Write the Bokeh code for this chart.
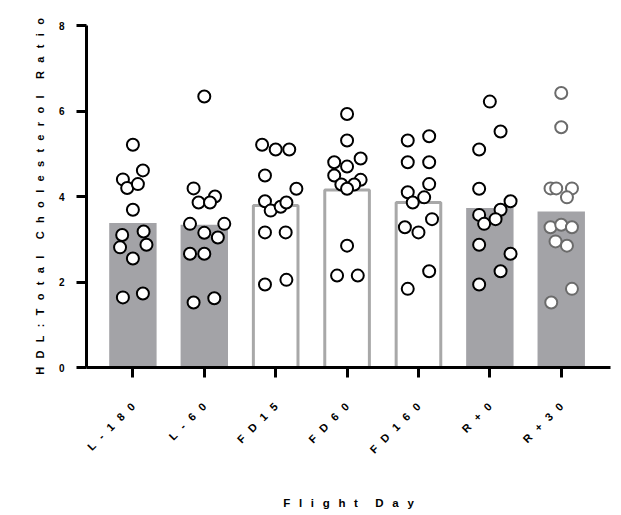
import math
from bokeh.plotting import figure
from bokeh.models import Range1d, FixedTicker, ColumnDataSource
from bokeh.embed import file_html
from bokeh.resources import INLINE

# ---------------- data ----------------
categories = ["L-180", "L-60", "FD15", "FD60", "FD160", "R+0", "R+30"]
means = [3.38, 3.34, 3.79, 4.15, 3.86, 3.73, 3.65]

l180 = [5.21, 4.61, 4.40, 4.20, 4.29, 3.69, 3.10, 3.18, 2.87, 2.81, 2.55, 1.64, 1.73]
l60 = [6.34, 4.19, 4.00, 3.86, 3.86, 3.36, 3.36, 3.15, 3.04, 2.66, 2.66, 1.52, 1.62]
fd15 = [5.21, 5.10, 5.10, 4.49, 4.18, 3.89, 3.67, 3.76, 3.86, 3.16, 3.16, 1.94, 2.05]
fd60 = [5.93, 5.31, 4.80, 4.89, 4.70, 4.49, 4.39, 4.28, 4.28, 4.18, 2.85, 2.15, 2.15]
fd160 = [5.31, 5.41, 4.80, 4.80, 4.29, 4.10, 3.86, 3.98, 3.47, 3.28, 3.16, 2.25, 1.84]
rp0 = [6.22, 5.52, 5.10, 4.18, 3.89, 3.69, 3.57, 3.47, 3.36, 2.87, 2.66, 2.25, 1.94]
rp30 = [6.42, 5.62, 4.19, 4.19, 4.19, 3.98, 3.28, 3.34, 3.28, 2.95, 2.85, 1.84, 1.52]

# horizontal scatter of each point around its category (category units)
jit_l180 = [0, 0.14, -0.14, -0.08, 0.07, 0, -0.15, 0.15, 0.19, -0.18, 0, -0.14, 0.14]
jit_l60 = [0, -0.15, 0.15, -0.08, 0.08, -0.2, 0.28, 0, 0.19, -0.2, 0, -0.15, 0.14]
jit_fd15 = [-0.19, 0, 0.19, -0.15, 0.29, -0.15, -0.07, 0.07, 0.15, -0.15, 0.14, -0.15, 0.15]
jit_fd60 = [0, 0, -0.18, 0.19, 0, -0.18, 0.19, -0.08, 0.1, 0, 0, -0.14, 0.15]
jit_fd160 = [-0.15, 0.15, -0.15, 0.15, 0.15, -0.15, -0.08, 0.08, 0.19, -0.19, 0, 0.15, -0.15]
jit_rp0 = [0, 0.15, -0.15, -0.15, 0.29, 0.15, -0.15, 0.08, -0.08, -0.15, 0.29, 0.15, -0.15]
jit_rp30 = [0, 0, -0.15, -0.07, 0.15, 0.08, -0.15, 0, 0.15, -0.08, 0.08, 0.15, -0.14]

y_ticks = [0, 2, 4, 6, 8]
x_title = "Flight Day"
y_title = "HDL:Total Cholesterol Ratio"

groups = [l180, l60, fd15, fd60, fd160, rp0, rp30]
jitters = [jit_l180, jit_l60, jit_fd15, jit_fd60, jit_fd160, jit_rp0, jit_rp30]
filled = [True, True, False, False, False, True, True]
point_colors = ["black"] * 6 + ["#6b6b6b"]

LG = "\u00a0\u00a0\u2009"       # letter gap (wide tracking as in the reference)
WG = LG + LG                     # word gap


def spaced(s):
    return WG.join(LG.join(list(w)) for w in s.split(" "))


FONT = "Liberation Sans"
BAR_GRAY = "#a3a3a7"

p = figure(
    width=618, height=512,
    x_range=Range1d(-0.65, 6.69), y_range=Range1d(0, 8),
    output_backend="svg", toolbar_location=None,
    min_border_left=86, min_border_top=25, min_border_right=8, min_border_bottom=145,
)
p.outline_line_color = None
p.xgrid.visible = False
p.ygrid.visible = False
p.background_fill_color = "white"
p.border_fill_color = "white"

idx = list(range(len(categories)))

fsrc = ColumnDataSource(dict(x=[i for i in idx if filled[i]], top=[means[i] for i in idx if filled[i]]))
osrc = ColumnDataSource(dict(x=[i for i in idx if not filled[i]], top=[means[i] for i in idx if not filled[i]]))
p.vbar(x="x", top="top", bottom=0, width=0.664, source=fsrc, fill_color=BAR_GRAY, line_color=None)
p.vbar(x="x", top="top", bottom=0, width=0.625, source=osrc, fill_color="white",
       line_color="#a8a8a8", line_width=3)

for i, (vals, jit) in enumerate(zip(groups, jitters)):
    src = ColumnDataSource(dict(x=[i + j for j in jit], y=vals))
    p.scatter(x="x", y="y", source=src, size=12, marker="circle", fill_color="white",
              line_color=point_colors[i], line_width=2)

for ax in (p.xaxis[0], p.yaxis[0]):
    ax.axis_line_width = 3
    ax.axis_line_color = "black"
    ax.major_tick_line_width = 3
    ax.major_tick_line_color = "black"
    ax.major_tick_out = 10
    ax.major_tick_in = 0
    ax.minor_tick_line_color = None
    ax.major_label_text_font = FONT
    ax.major_label_text_font_style = "bold"
    ax.major_label_text_color = "black"
    ax.axis_label_text_font = FONT
    ax.axis_label_text_font_style = "bold"
    ax.axis_label_text_color = "black"

p.yaxis.ticker = FixedTicker(ticks=y_ticks)
p.yaxis.major_label_text_font_size = "10px"
p.yaxis.major_label_standoff = 12
p.yaxis.axis_label = spaced(y_title)
p.yaxis.axis_label_text_font_size = "11px"
p.yaxis.axis_label_standoff = 10

p.xaxis.ticker = FixedTicker(ticks=idx)
p.xaxis.major_label_overrides = {i: spaced(c) for i, c in enumerate(categories)}
p.xaxis.major_label_orientation = math.pi / 4
p.xaxis.major_label_text_font_size = "11px"
p.xaxis.major_label_standoff = 27
p.xaxis.axis_label = spaced(x_title)
p.xaxis.axis_label_text_font_size = "11.5px"
p.xaxis.axis_label_standoff = 34

open("out.html", "w").write(file_html(p, INLINE))
